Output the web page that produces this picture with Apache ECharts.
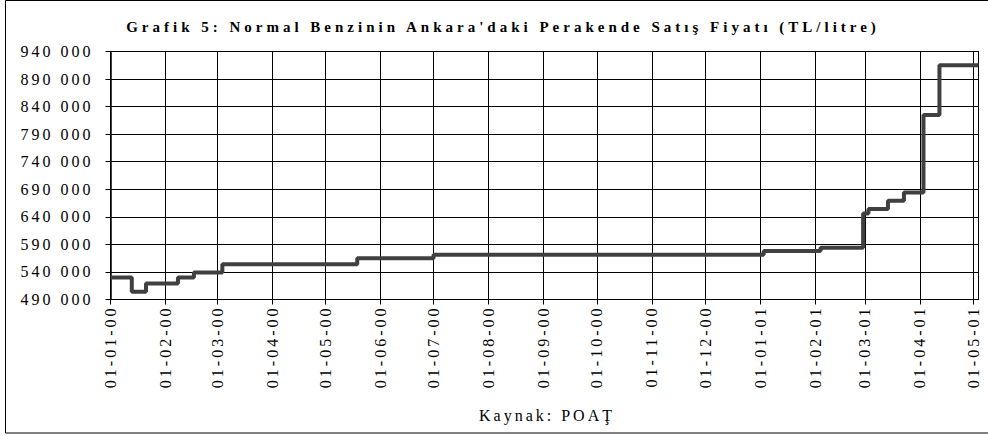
<!DOCTYPE html>
<html>
<head>
<meta charset="utf-8">
<script src="https://cdn.jsdelivr.net/npm/echarts@6/dist/echarts.min.js"></script>
<style>
html,body{margin:0;padding:0;background:#fff;}
#chart{width:988px;height:436px;}
#chart text{letter-spacing:3px;}
#chart text[font-weight="bold"], #chart text[style*="bold"]{letter-spacing:4px;}
</style>
</head>
<body>
<div id="chart"></div>
<script>
// Step changes of the price (date of change, price from that date on)
const changeDates = ['2000-01-01','2000-01-13','2000-01-21','2000-02-08','2000-02-17','2000-03-04','2000-05-19','2000-07-01','2001-01-03','2001-02-04','2001-02-28','2001-03-03','2001-03-14','2001-03-23','2001-04-03','2001-04-12','2001-05-04'];
const prices = [530000,504000,519000,530000,539000,554000,565000,571000,578000,584000,646000,654000,669000,684000,825000,915000,915000];
const yMin = 490000, yMax = 940000, yStep = 50000;
const xStart = '2000-01-01', xEnd = '2001-05-04';
const titleText = "Grafik 5: Normal Benzinin Ankara'daki Perakende Satış Fiyatı (TL/litre)";
const sourceText = 'Kaynak: POAŢ';

const seriesData = changeDates.map((d, i) => [d, prices[i]]);
const pad = n => (n < 10 ? '0' : '') + n;
const DAY = 86400000;

const chart = echarts.init(document.getElementById('chart'), null, {renderer: 'svg'});
chart.setOption({
  animation: false,
  backgroundColor: '#fff',
  title: [{
    text: titleText,
    left: 498,
    textAlign: 'center',
    top: 14,
    textStyle: {fontFamily: 'Liberation Serif', fontWeight: 'bold', fontSize: 15, color: '#000'}
  }, {
    text: sourceText,
    left: 542,
    textAlign: 'center',
    top: 402,
    textStyle: {fontFamily: 'Liberation Serif', fontWeight: 'normal', fontSize: 16, color: '#000'}
  }],
  graphic: [{
    type: 'rect',
    shape: {x: 5.5, y: 0.5, width: 1000, height: 432.5},
    style: {fill: 'none', stroke: '#000', lineWidth: 1},
    silent: true
  }],
  grid: {left: 110.5, right: 9.5, top: 51.5, bottom: 136.5, show: true, borderColor: '#000', borderWidth: 1},
  xAxis: {
    type: 'time',
    min: xStart,
    max: xEnd,
    minInterval: 28 * DAY,
    maxInterval: 31 * DAY,
    splitNumber: 20,
    axisLine: {lineStyle: {color: '#000', width: 1}},
    axisTick: {show: true, length: 5, lineStyle: {color: '#000'}},
    splitLine: {show: true, lineStyle: {color: '#000', width: 1}},
    axisLabel: {
      rotate: 90,
      margin: 6,
      color: '#000',
      fontFamily: 'Liberation Serif',
      fontSize: 16,
      showMinLabel: true,
      showMaxLabel: false,
      formatter: function (v) {
        const d = new Date(v);
        return pad(d.getDate()) + '-' + pad(d.getMonth() + 1) + '-' + pad(d.getFullYear() % 100);
      }
    }
  },
  yAxis: {
    type: 'value',
    min: yMin,
    max: yMax,
    interval: yStep,
    axisLine: {show: true, lineStyle: {color: '#000', width: 1.5}},
    axisTick: {show: true, length: 5, lineStyle: {color: '#000'}},
    splitLine: {show: true, lineStyle: {color: '#000', width: 1}},
    axisLabel: {
      margin: 17,
      color: '#000',
      fontFamily: 'Liberation Serif',
      fontSize: 16,
      formatter: function (v) {
        const s = String(Math.round(v));
        return s.slice(0, s.length - 3) + ' ' + s.slice(-3);
      }
    }
  },
  series: [{
    type: 'line',
    step: 'end',
    data: seriesData,
    symbol: 'none',
    lineStyle: {color: '#404040', width: 4},
    clip: false
  }]
});
</script>
</body>
</html>
